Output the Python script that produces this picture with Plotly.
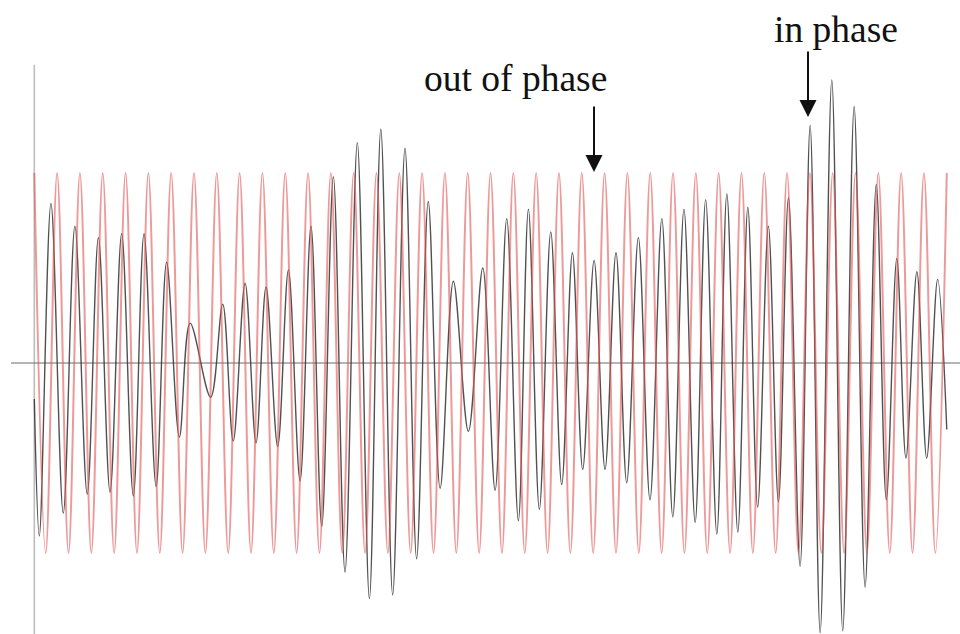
import plotly.graph_objects as go

# reference wave (red): turning points, one period = 1 unit
red_t = [0, 0.5, 1, 1.5, 2, 2.5, 3, 3.5, 4, 4.5, 5, 5.5, 6, 6.5, 7, 7.5, 8, 8.5, 9, 9.5,
         10, 10.5, 11, 11.5, 12, 12.5, 13, 13.5, 14, 14.5, 15, 15.5, 16, 16.5, 17, 17.5, 18, 18.5, 19, 19.5,
         20, 20.5, 21, 21.5, 22, 22.5, 23, 23.5, 24, 24.5, 25, 25.5, 26, 26.5, 27, 27.5, 28, 28.5, 29, 29.5,
         30, 30.5, 31, 31.5, 32, 32.5, 33, 33.5, 34, 34.5, 35, 35.5, 36, 36.5, 37, 37.5, 38, 38.5, 39, 39.5,
         40]
red_y = [1, -1, 1, -1, 1, -1, 1, -1, 1, -1, 1, -1, 1, -1, 1, -1, 1, -1, 1, -1,
         1, -1, 1, -1, 1, -1, 1, -1, 1, -1, 1, -1, 1, -1, 1, -1, 1, -1, 1, -1,
         1, -1, 1, -1, 1, -1, 1, -1, 1, -1, 1, -1, 1, -1, 1, -1, 1, -1, 1, -1,
         1, -1, 1, -1, 1, -1, 1, -1, 1, -1, 1, -1, 1, -1, 1, -1, 1, -1, 1, -1,
         1]

sig_t = [0.0, 0.22, 0.73, 1.27, 1.78, 2.32, 2.81, 3.32, 3.83, 4.34, 4.81, 5.34, 5.80, 6.36, 6.83, 7.73,
         8.26, 8.72, 9.24, 9.72, 10.16, 10.67, 11.14, 11.65, 12.13, 12.60, 13.11, 13.62, 14.16, 14.69,
         15.19, 15.71, 16.25, 16.76, 17.27, 17.79, 18.37, 19.03, 19.66, 20.20, 20.71, 21.22, 21.66, 22.14,
         22.64, 23.12, 23.59, 24.04, 24.54, 25.02, 25.50, 25.97, 26.48, 26.99, 27.51, 27.99, 28.48, 28.97,
         29.43, 29.92, 30.36, 30.84, 31.28, 31.71, 32.18, 32.62, 33.06, 33.57, 34.01, 34.45, 34.96, 35.44,
         35.94, 36.42, 36.91, 37.35, 37.81, 38.21, 38.69, 39.12, 39.60, 40.0]
sig_y = [-0.19, -0.91, 0.84, -0.79, 0.72, -0.69, 0.66, -0.68, 0.68, -0.70, 0.68, -0.65, 0.53, -0.39, 0.21, -0.18,
         0.31, -0.41, 0.42, -0.42, 0.40, -0.44, 0.49, -0.62, 0.72, -0.86, 0.98, -1.10, 1.16, -1.24,
         1.23, -1.22, 1.13, -1.03, 0.85, -0.66, 0.43, -0.36, 0.50, -0.67, 0.76, -0.83, 0.81, -0.77,
         0.69, -0.64, 0.58, -0.56, 0.54, -0.56, 0.58, -0.63, 0.66, -0.72, 0.76, -0.81, 0.81, -0.84,
         0.86, -0.90, 0.89, -0.89, 0.82, -0.76, 0.72, -0.73, 0.87, -1.07, 1.25, -1.42, 1.49, -1.41,
         1.35, -1.18, 0.94, -0.72, 0.55, -0.50, 0.48, -0.50, 0.44, -0.35]

fig = go.Figure()

fig.add_trace(go.Scatter(x=sig_t, y=sig_y, mode='lines',
                         line=dict(color='rgba(50,50,50,0.85)', width=1.4, shape='spline', smoothing=1),
                         hoverinfo='skip'))
fig.add_trace(go.Scatter(x=red_t, y=red_y, mode='lines',
                         line=dict(color='rgba(225,85,85,0.6)', width=2, shape='spline', smoothing=1),
                         hoverinfo='skip'))

# axes drawn as plain lines through the origin
fig.add_shape(type='line', x0=0, x1=0, y0=-1.43, y1=1.57, xref='x', yref='y',
              line=dict(color='#bdbdbd', width=1.6), layer='below')
fig.add_shape(type='line', x0=-1.02, x1=40.6, y0=0, y1=0, xref='x', yref='y',
              line=dict(color='#6a6a6a', width=1), layer='below')

serif = dict(family='Liberation Serif, Times New Roman, serif', size=37.5, color='#111')

# labels
fig.add_annotation(text='out of phase', xref='paper', yref='paper', x=515 / 960, y=1 - 78 / 634,
                   showarrow=False, font=serif, xanchor='center', yanchor='middle')
fig.add_annotation(text='in phase', xref='paper', yref='paper', x=836 / 960, y=1 - 29 / 634,
                   showarrow=False, font=serif, xanchor='center', yanchor='middle')

# arrows
for ax_px, tip_y in [(594, 172), (808, 117)]:
    fig.add_annotation(text='', xref='paper', yref='paper', x=ax_px / 960, y=1 - tip_y / 634,
                       ax=0, ay=-67, showarrow=True, arrowhead=2, arrowsize=1.7, arrowwidth=2,
                       arrowcolor='#111', standoff=0)

fig.update_layout(width=960, height=634, autosize=False,
                  margin=dict(l=0, r=0, t=0, b=0, pad=0),
                  paper_bgcolor='white', plot_bgcolor='white',
                  showlegend=False,
                  xaxis=dict(range=[-1.504, 40.58], visible=False, fixedrange=True),
                  yaxis=dict(range=[-1.4263, 1.9105], visible=False, fixedrange=True))

fig.write_html("out.html", config={'displayModeBar': False},
               post_script="document.body.style.margin='0';")
